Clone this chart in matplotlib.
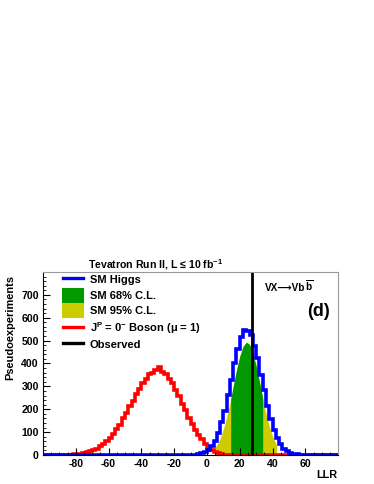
import numpy as np
import matplotlib
matplotlib.use('Agg')
import matplotlib.pyplot as plt
from matplotlib.lines import Line2D
from matplotlib.patches import Patch
from matplotlib.ticker import MultipleLocator

plt.rcParams['font.family'] = ['Liberation Sans', 'DejaVu Sans']
plt.rcParams['font.weight'] = 'bold'
plt.rcParams['axes.unicode_minus'] = False
plt.rcParams['mathtext.fontset'] = 'custom'
plt.rcParams['mathtext.rm'] = 'Liberation Sans:bold'
plt.rcParams['mathtext.bf'] = 'Liberation Sans:bold'
plt.rcParams['mathtext.it'] = 'Liberation Sans:bold'

# histogram binning (LLR), 2 units per bin from -100 to 80
edges = np.arange(-100, 82, 2)

# J^P = 0- boson pseudoexperiments, bins centred -89 ... 13
red_first_centre = -89
red_counts = [1, 1, 1, 2, 3, 4, 6, 8, 11, 16, 21, 28, 37, 47, 60, 76, 91, 113,
              133, 160, 183, 212, 236, 267, 288, 316, 331, 352, 360, 372, 384,
              364, 356, 333, 314, 283, 257, 222, 196, 162, 137, 110, 88, 68,
              48, 32, 21, 13, 7, 4, 2, 1]

# SM Higgs pseudoexperiments, bins centred -11 ... 59
blue_first_centre = -11
blue_counts = [0, 1, 2, 4, 7, 13, 22, 38, 62, 96, 142, 194, 263, 328, 403, 462,
               515, 548, 541, 526, 478, 423, 349, 283, 212, 158, 108, 73, 46,
               28, 17, 9, 5, 3, 1, 1]

# smoothed SM curve used for the C.L. bands
band_x = [5, 7, 9, 11, 13, 14.5, 16, 18, 20, 22, 24, 26, 28, 30, 32, 34, 36,
          38, 40, 42.5]
band_y = [33, 56, 90, 137, 195, 245, 299, 370, 431, 474, 493, 483, 446, 389,
          321, 249, 182, 126, 82, 40]
cl68 = (14.5, 34)
cl95 = (5, 42.5)

observed = 27.4


def padded(first_centre, counts):
    full = np.zeros(len(edges) - 1)
    i0 = int((first_centre - 1 - edges[0]) // 2)
    full[i0:i0 + len(counts)] = counts
    return full


fig = plt.figure(figsize=(3.74, 4.84), dpi=100)
ax = fig.add_axes([0.115, 0.060, 0.789, 0.378])

bx = np.array(band_x)
by = np.array(band_y)
ax.fill_between(bx, 0, by, where=(bx >= cl95[0]) & (bx <= cl95[1]),
                color='#cccc00', lw=0)
ax.fill_between(bx, 0, by, where=(bx >= cl68[0]) & (bx <= cl68[1]),
                color='#009900', lw=0)

ax.stairs(padded(red_first_centre, red_counts), edges, color='red', lw=2.6)
ax.stairs(padded(blue_first_centre, blue_counts), edges, color='blue', lw=2.6)
ax.axvline(observed, color='black', lw=2)

ax.set_xlim(-100, 80)
ax.set_ylim(0, 800)
ax.set_xticks(range(-80, 80, 20))
ax.set_yticks(range(0, 800, 100))
ax.xaxis.set_minor_locator(MultipleLocator(5))
ax.yaxis.set_minor_locator(MultipleLocator(20))
ax.tick_params(which='both', direction='in', labelsize=7.6, pad=3)
ax.tick_params(which='major', length=5)
ax.tick_params(which='minor', length=2.5)
for s in ['top', 'right']:
    ax.spines[s].set_color('#999999')
    ax.spines[s].set_linewidth(0.8)
for s in ['left', 'bottom']:
    ax.spines[s].set_linewidth(0.8)

handles = [Line2D([], [], color='blue', lw=2.4),
           Patch(facecolor='#009900', edgecolor='#009900', lw=1.5, joinstyle='round'),
           Patch(facecolor='#cccc00', edgecolor='#cccc00', lw=1.5, joinstyle='round'),
           Line2D([], [], color='red', lw=2.4),
           Line2D([], [], color='black', lw=2.4)]
labels = ['SM Higgs', 'SM 68% C.L.', 'SM 95% C.L.',
          r'J$^{P}$ = 0$^{-}$ Boson (μ = 1)', 'Observed']
ax.legend(handles, labels, loc='upper left', bbox_to_anchor=(0.068, 0.995),
          frameon=False, fontsize=8, handlelength=1.8, handleheight=1.45,
          handletextpad=0.6, labelspacing=0.22, borderpad=0, borderaxespad=0)

# process label: arrow taken from DejaVu, anti-b drawn right after
proc = fig.text(265 / 374, 1 - 291 / 484, 'VX⟶Vb', fontsize=7.2,
                va='baseline', ha='left')
ax.annotate(r'$\overline{\mathrm{b}}$', xy=(1, 0), xycoords=proc,
            fontsize=7.2, va='bottom', ha='left')
ax.text(319 / 374, 1 - 311 / 484, '(d)', transform=fig.transFigure,
        fontsize=13, va='center', ha='center')

fig.text(88 / 374, 1 - 265 / 484, r'Tevatron Run II, L ≤ 10 fb$^{-1}$',
         fontsize=7.6, va='center', ha='left')
fig.text(10 / 374, 1 - 275 / 484, 'Pseudoexperiments', rotation=90,
         fontsize=7.9, va='top', ha='center')
fig.text(337 / 374, 1 - 475 / 484, 'LLR', fontsize=7.8, va='center', ha='right')

fig.savefig('out.png', dpi=100)
